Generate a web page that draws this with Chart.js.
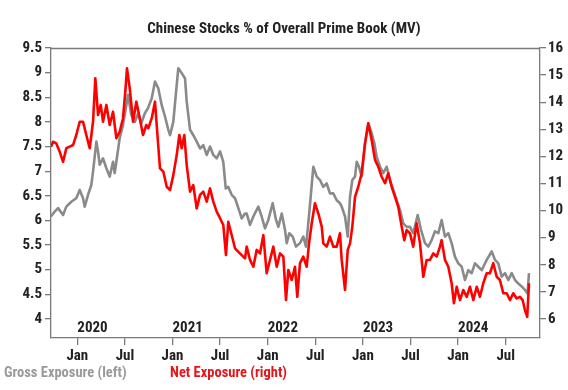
<!DOCTYPE html>
<html><head><meta charset="utf-8">
<script src="https://cdn.jsdelivr.net/npm/chart.js@4"></script>
<style>html,body{margin:0;padding:0;background:#fff;}#wrap{width:568px;height:390px;}</style>
</head><body><div id="wrap"><canvas id="c" width="568" height="390"></canvas></div>
<script>
// x values are months since Jan 2020 (0 = Jan 2020)
const grossMonths = [-3.32,-2.85,-2.43,-1.80,-1.39,-0.76,-0.13,0.30,0.72,0.93,1.35,1.76,1.98,2.40,2.61,2.82,3.24,3.66,4.08,4.50,4.71,4.92,5.34,5.76,6.18,6.39,6.81,7.24,7.66,8.07,8.50,8.91,
9.38,9.79,10.21,10.64,11.05,11.47,11.69,12.10,12.53,12.73,13.16,13.58,13.79,14.21,14.62,15.05,15.47,15.88,16.31,16.73,17.14,17.57,17.99,18.40,18.71,19.03,19.46,19.88,20.30,20.72,21.14,
21.35,21.77,22.19,22.82,23.24,23.66,24.08,24.63,25.05,25.34,25.77,26.18,26.40,26.72,27.15,27.57,28.07,28.49,28.83,29.12,29.42,29.75,30.18,30.59,31.01,31.44,31.85,32.27,32.70,33.11,
33.33,33.75,34.09,34.38,34.67,35.01,35.22,35.51,35.85,36.27,36.68,37.11,37.44,37.74,38.16,38.57,39.00,39.42,39.83,40.26,40.68,41.09,41.52,41.94,42.35,42.91,43.33,43.83,44.25,44.67,45.09,
45.51,45.93,46.35,46.77,47.19,47.61,48.03,48.46,48.87,49.29,49.72,50.13,50.55,50.98,51.61,52.24,52.66,53.07,53.50,53.92,54.33,54.76,55.18,55.59,56.02,56.43,56.77,56.94];
const grossValues = [6.08,6.18,6.25,6.11,6.28,6.38,6.45,6.62,6.45,6.28,6.52,6.72,6.99,7.60,7.40,7.13,7.26,7.06,6.89,7.19,6.96,7.19,7.67,7.94,8.34,8.55,8.14,8.00,8.17,7.97,8.17,8.28,
8.48,8.82,8.68,8.34,8.11,7.84,7.73,8.00,8.75,9.09,8.99,8.88,8.41,7.84,7.73,7.60,7.46,7.53,7.33,7.50,7.33,7.26,7.40,7.19,6.65,6.68,6.52,6.45,6.25,6.04,6.14,
6.14,5.91,6.08,6.28,6.08,5.84,6.01,6.35,6.01,5.87,6.14,5.81,5.54,5.74,5.67,5.47,5.54,5.67,5.47,5.94,6.48,7.09,6.89,6.82,6.68,6.75,6.55,6.55,6.41,6.35,
6.28,6.08,5.67,6.48,6.82,6.89,7.19,7.09,6.89,7.57,7.97,7.77,7.57,7.29,7.09,6.96,7.09,6.82,6.62,6.41,6.21,5.94,5.87,5.87,5.74,6.11,5.81,5.54,5.47,5.60,5.78,
5.74,6.01,5.67,5.74,5.54,5.26,5.13,5.06,4.79,4.99,4.93,5.13,5.06,4.99,5.20,5.37,5.20,5.13,4.86,4.93,4.79,4.93,4.79,4.72,4.66,4.59,4.52,4.93];

const netMonths = [-3.32,-3.06,-2.65,-2.22,-1.80,-1.39,-0.96,-0.54,-0.13,0.30,0.72,1.13,1.56,1.98,2.27,2.61,2.95,3.24,3.66,4.08,4.50,4.92,5.34,5.76,6.05,6.26,6.61,7.02,7.44,7.87,8.28,8.70,
8.95,9.38,9.79,10.13,10.42,10.84,11.27,11.69,12.10,12.53,12.86,13.16,13.49,13.79,14.21,14.62,15.05,15.47,15.88,16.31,16.73,17.14,17.57,17.99,18.40,18.74,19.03,19.46,19.88,20.30,20.72,21.14,
21.35,21.77,22.19,22.61,23.03,23.45,23.87,24.29,24.71,25.14,25.55,25.97,26.31,26.60,27.03,27.44,27.73,28.07,28.49,28.92,29.21,29.55,29.96,30.38,30.81,31.01,31.44,31.85,32.27,32.70,33.11,
33.33,33.75,34.09,34.38,34.67,35.01,35.42,35.85,36.27,36.68,37.11,37.53,37.94,38.37,38.79,39.20,39.63,40.05,40.46,40.89,41.22,41.52,41.94,42.35,42.78,43.20,43.62,44.04,44.46,44.88,
45.30,45.72,45.93,46.35,46.77,47.19,47.48,47.83,48.24,48.66,49.09,49.50,49.92,50.35,50.76,51.18,51.61,52.02,52.44,52.87,53.28,53.70,54.13,54.54,54.96,55.39,55.80,56.14,56.43,56.72,56.94];
const netValues = [12.36,12.54,12.48,12.17,11.80,12.30,12.36,12.42,12.79,13.28,13.28,12.79,12.30,13.28,14.88,13.53,13.90,13.28,13.90,13.16,13.65,12.67,12.91,13.41,14.39,15.25,14.51,13.28,14.02,13.41,12.79,13.16,
13.04,13.41,14.02,12.67,11.56,11.44,10.88,10.76,11.31,12.05,12.79,12.30,12.79,11.68,10.70,10.94,10.08,10.58,10.70,10.33,10.82,10.33,9.96,9.72,9.47,8.36,9.59,9.10,8.61,8.48,8.36,8.24,
8.67,8.18,7.93,8.55,8.42,9.10,7.69,8.18,8.67,7.93,8.42,8.30,6.70,7.81,7.44,7.93,6.82,8.06,8.30,7.93,8.79,9.53,10.27,9.90,9.41,8.79,8.67,9.04,8.67,8.67,9.16,
8.18,7.07,8.55,8.79,9.41,10.51,10.88,11.38,12.48,13.22,12.61,11.87,11.62,11.25,11.01,11.38,10.88,10.51,10.14,9.41,8.91,9.28,9.16,8.67,9.53,8.79,7.56,8.18,8.18,8.42,
8.30,8.67,8.91,8.18,7.93,7.32,6.58,7.19,6.70,7.07,6.82,7.19,6.70,7.19,6.82,7.32,7.69,7.69,8.06,7.56,7.44,6.95,6.95,6.70,6.95,6.76,6.82,6.70,6.33,6.08,7.32];

const leftTicks = [4,4.5,5,5.5,6,6.5,7,7.5,8,8.5,9,9.5];
const rightTicks = [6,7,8,9,10,11,12,13,14,15,16];
const xTickMonths = [0,6,12,18,24,30,36,42,48,54];
const xTickLabels = ['Jan','Jul','Jan','Jul','Jan','Jul','Jan','Jul','Jan','Jul'];
const yearLabels = ['2020','2021','2022','2023','2024'];
const yearStartMonths = [0,12,24,36,48];
const seriesNames = ['Gross Exposure (left)','Net Exposure (right)'];
const titleText = 'Chinese Stocks % of Overall Prime Book (MV)';

const FONT = "'Roboto Condensed','Liberation Sans Narrow','DejaVu Sans Condensed','Arial Narrow',sans-serif";
const AXIS = '#7a7a7a';
const TXT = '#222222';
const GRAY = '#8a8a8a';
const RED = '#ff0000';

const decor = {
  id: 'decor',
  afterDraw(chart) {
    const ctx = chart.ctx, a = chart.chartArea, xs = chart.scales.x;
    ctx.save();
    ctx.strokeStyle = AXIS; ctx.lineWidth = 1.3;
    ctx.beginPath(); ctx.moveTo(a.left, a.top + 0.5); ctx.lineTo(a.right, a.top + 0.5); ctx.stroke();
    ctx.font = 'bold 15px ' + FONT;
    ctx.fillStyle = TXT; ctx.textAlign = 'left'; ctx.textBaseline = 'middle';
    yearLabels.forEach((t, i) => ctx.fillText(t, xs.getPixelForValue(yearStartMonths[i]), a.bottom - 10));
    ctx.font = 'bold 14.5px ' + FONT;
    ctx.fillStyle = '#9a9a9a'; ctx.fillText(seriesNames[0], 4, 373);
    ctx.fillStyle = '#e8141b'; ctx.fillText(seriesNames[1], 170, 373);
    ctx.restore();
  }
};

const tickFont = {family: FONT, size: 15, weight: 'bold'};

new Chart(document.getElementById('c'), {
  type: 'line',
  data: {
    datasets: [
      {label: seriesNames[0], data: grossMonths.map((m, i) => ({x: m, y: grossValues[i]})), yAxisID: 'y',
       borderColor: GRAY, borderWidth: 2.6, pointRadius: 0, tension: 0, order: 2, borderJoinStyle: 'round'},
      {label: seriesNames[1], data: netMonths.map((m, i) => ({x: m, y: netValues[i]})), yAxisID: 'y1',
       borderColor: RED, borderWidth: 2.6, pointRadius: 0, tension: 0, order: 1, borderJoinStyle: 'round'}
    ]
  },
  options: {
    responsive: false, devicePixelRatio: 1, animation: false,
    layout: {padding: {left: 0, right: 0, top: 0, bottom: 22}},
    plugins: {
      legend: {display: false}, tooltip: {enabled: false},
      title: {display: true, text: titleText, color: TXT, font: {family: FONT, size: 15, weight: 'bold'}, padding: {top: 20, bottom: 10}}
    },
    scales: {
      x: {
        type: 'linear', position: 'bottom', min: -3.32, max: 58.33,
        afterBuildTicks: s => { s.ticks = xTickMonths.map(v => ({value: v})); },
        afterFit: s => { s.height = 30; },
        grid: {display: true, drawOnChartArea: false, drawTicks: true, tickLength: 7, color: AXIS, lineWidth: 1.3},
        border: {display: true, color: AXIS, width: 1.3},
        ticks: {autoSkip: false, maxRotation: 0, padding: 2, color: TXT, font: tickFont,
          callback: v => { const i = xTickMonths.indexOf(v); return i >= 0 ? xTickLabels[i] : ''; }}
      },
      y: {
        type: 'linear', position: 'left', min: 3.614, max: 9.5,
        afterBuildTicks: s => { s.ticks = leftTicks.map(v => ({value: v})); },
        afterFit: s => { s.width = 51; },
        grid: {display: true, drawOnChartArea: false, drawTicks: true, tickLength: 6, color: AXIS, lineWidth: 1.3},
        border: {display: true, color: AXIS, width: 1.3},
        ticks: {padding: 3, color: TXT, font: tickFont, callback: v => String(v)}
      },
      y1: {
        type: 'linear', position: 'right', min: 5.30, max: 16,
        afterBuildTicks: s => { s.ticks = rightTicks.map(v => ({value: v})); },
        afterFit: s => { s.width = 28; },
        grid: {display: true, drawOnChartArea: false, drawTicks: true, tickLength: 6, color: AXIS, lineWidth: 1.3},
        border: {display: true, color: AXIS, width: 1.3},
        ticks: {padding: 2, color: TXT, font: tickFont, callback: v => String(v)}
      }
    }
  },
  plugins: [decor]
});
</script></body></html>
